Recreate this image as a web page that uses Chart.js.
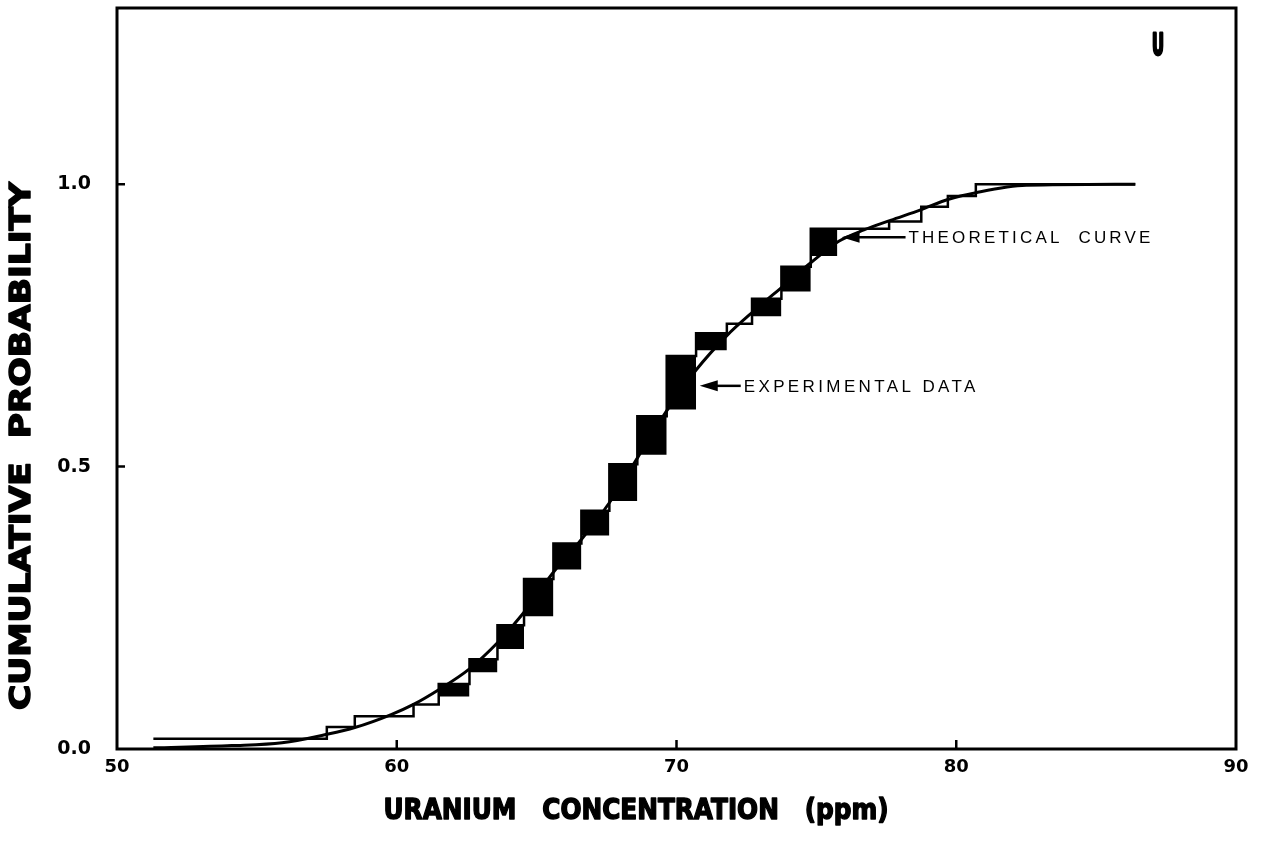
<!DOCTYPE html>
<html>
<head>
<meta charset="utf-8">
<title>Uranium concentration - cumulative probability</title>
<script src="https://cdn.jsdelivr.net/npm/chart.js@4.4.1/dist/chart.umd.min.js"></script>
<style>
  html, body { margin: 0; padding: 0; background: #fff; }
  #wrap { position: relative; width: 1267px; height: 841px; }
</style>
</head>
<body>
<div id="wrap"><canvas id="myChart"></canvas></div>
<script>
// Experimental data: empirical cumulative distribution (jump position, level after jump)
const stepX = [51.3, 57.5, 58.5, 60.6, 61.5, 62.6, 63.6, 64.55, 65.6, 66.6, 67.6, 68.6, 69.65, 70.7, 71.8, 72.7, 73.75, 74.8, 77.6, 78.75, 79.7, 80.7, 86.4];
const stepY = [0.018, 0.039, 0.058, 0.079, 0.115, 0.159, 0.219, 0.301, 0.364, 0.422, 0.504, 0.589, 0.696, 0.736, 0.753, 0.797, 0.854, 0.921, 0.934, 0.960, 0.979, 1.0, 1.0];

// Filled blocks of the experimental data
const boxStart = [61.5, 62.6, 63.6, 64.55, 65.6, 66.6, 67.6, 68.6, 69.65, 70.7, 72.7, 73.75, 74.8];
const boxEnd   = [62.6, 63.6, 64.55, 65.6, 66.6, 67.6, 68.6, 69.65, 70.7, 71.8, 73.75, 74.8, 75.75];
const boxLow   = [0.093, 0.136, 0.177, 0.235, 0.318, 0.378, 0.439, 0.521, 0.601, 0.706, 0.766, 0.810, 0.873];
const boxHigh  = [0.115, 0.159, 0.219, 0.301, 0.364, 0.422, 0.504, 0.589, 0.696, 0.736, 0.797, 0.854, 0.921];

// Theoretical curve
const curveX = [51.3, 54.1, 55.9, 57.5, 58.5, 59.8, 60.6, 61.5, 62.6, 63.6, 64.5, 65.6, 66.6, 67.6, 68.6, 69.6, 70.7, 71.8, 72.75, 73.75, 74.8, 75.8, 76.7, 77.65, 78.75, 79.7, 80.7, 82.5, 86.4];
const curveY = [0.002, 0.006, 0.011, 0.026, 0.038, 0.061, 0.079, 0.105, 0.142, 0.188, 0.239, 0.313, 0.371, 0.436, 0.515, 0.595, 0.671, 0.732, 0.775, 0.817, 0.861, 0.899, 0.919, 0.936, 0.955, 0.973, 0.985, 0.998, 1.0];

// Axis ticks
const xTicks = [50, 60, 70, 80, 90];
const yTicks = [0.0, 0.5, 1.0];
const xInnerTicks = [60, 70, 80];
const yInnerTicks = [0.5, 1.0];

// Annotations (text, where the arrow points)
const noteText = ['THEORETICAL  CURVE', 'EXPERIMENTAL DATA'];
const noteX = [75.9, 70.83];
const noteY = [0.906, 0.643];

const ctx = document.getElementById('myChart');

// one pair of datasets per block: top edge, bottom edge filled up to the top
const boxSets = [];
for (let i = 0; i < boxStart.length; i++) {
  boxSets.push({
    data: [{x: boxStart[i], y: boxHigh[i]}, {x: boxEnd[i], y: boxHigh[i]}],
    borderWidth: 0, pointRadius: 0, fill: false, borderColor: '#000'
  });
  boxSets.push({
    data: [{x: boxStart[i], y: boxLow[i]}, {x: boxEnd[i], y: boxLow[i]}],
    borderWidth: 0, pointRadius: 0, fill: '-1', backgroundColor: '#000', borderColor: '#000'
  });
}

// draws text so it spans a given width (condensed poster lettering)
function fitText(c, text, cx, cy, width, font, rot, heavy) {
  c.save();
  c.font = font;
  c.textAlign = 'center';
  c.textBaseline = 'middle';
  const w = c.measureText(text).width;
  c.translate(cx, cy);
  if (rot) c.rotate(rot);
  c.scale(width / w, 1);
  c.fillText(text, 0, 0);
  if (heavy) {
    c.lineWidth = heavy;
    c.lineJoin = 'round';
    c.strokeText(text, 0, 0);
  }
  c.restore();
}

function spacedText(c, text, x, y, width, font) {
  c.save();
  c.font = font;
  c.textAlign = 'left';
  c.textBaseline = 'middle';
  const w = c.measureText(text).width;
  const sp = (width - w) / text.length;
  if ('letterSpacing' in c) {
    c.letterSpacing = sp + 'px';
    c.fillText(text, x, y);
  } else {
    c.translate(x, y);
    c.scale(width / w, 1);
    c.fillText(text, 0, 0);
  }
  c.restore();
}

const arrowLen = [64, 41];
const noteWidth = [245, 235];

const paperPlugin = {
  id: 'paper',
  afterDraw(chart) {
    const c = chart.ctx;
    const a = chart.chartArea;
    const xs = chart.scales.x;
    const ys = chart.scales.y;
    c.save();
    c.fillStyle = '#000';
    c.strokeStyle = '#000';

    // frame
    c.lineWidth = 3;
    c.strokeRect(a.left, a.top, a.right - a.left, a.bottom - a.top);

    // inward tick marks
    c.lineWidth = 2.5;
    c.beginPath();
    xInnerTicks.forEach(v => {
      const px = xs.getPixelForValue(v);
      c.moveTo(px, a.bottom);
      c.lineTo(px, a.bottom - 9);
    });
    yInnerTicks.forEach(v => {
      const py = ys.getPixelForValue(v);
      c.moveTo(a.left, py);
      c.lineTo(a.left + 8, py);
    });
    c.stroke();

    // arrows and labels
    for (let i = 0; i < noteText.length; i++) {
      const tx = xs.getPixelForValue(noteX[i]);
      const ty = ys.getPixelForValue(noteY[i]);
      const tail = tx + arrowLen[i];
      c.lineWidth = 2.5;
      c.beginPath();
      c.moveTo(tx + 14, ty);
      c.lineTo(tail, ty);
      c.stroke();
      c.beginPath();
      c.moveTo(tx, ty);
      c.lineTo(tx + 18, ty - 5.5);
      c.lineTo(tx + 18, ty + 5.5);
      c.closePath();
      c.fill();
      spacedText(c, noteText[i], tail + 3, ty + 1, noteWidth[i], '17px "Liberation Sans", Arial, sans-serif');
    }

    // element symbol
    fitText(c, 'U', 1158, 47, 12, 'bold 30px "DejaVu Sans", sans-serif', 0, 3);

    // axis titles
    fitText(c, 'CUMULATIVE  PROBABILITY', 22, 446, 528, 'bold 29px "DejaVu Sans", sans-serif', -Math.PI / 2, 1.5);
    fitText(c, 'URANIUM   CONCENTRATION   (ppm)', 636, 811, 505, 'bold 29px "DejaVu Sans", sans-serif', 0, 1.5);

    c.restore();
  }
};

const myChart = new Chart(ctx, {
  type: 'line',
  data: {
    datasets: [
      ...boxSets,
      {
        label: 'Experimental data',
        data: stepX.map((x, i) => ({x: x, y: stepY[i]})),
        stepped: 'before',
        borderColor: '#000',
        borderWidth: 2.5,
        pointRadius: 0,
        fill: false
      },
      {
        label: 'Theoretical curve',
        data: curveX.map((x, i) => ({x: x, y: curveY[i]})),
        borderColor: '#000',
        borderWidth: 3,
        pointRadius: 0,
        fill: false,
        cubicInterpolationMode: 'monotone'
      }
    ]
  },
  options: {
    responsive: true,
    maintainAspectRatio: false,
    animation: false,
    layout: { padding: { top: 8, right: 31, left: 0, bottom: 0 } },
    plugins: {
      legend: { display: false },
      tooltip: { enabled: false }
    },
    scales: {
      x: {
        type: 'linear',
        min: 50,
        max: 90,
        afterBuildTicks: s => { s.ticks = xTicks.map(v => ({value: v})); },
        afterFit: s => { s.height = 92; },
        grid: { display: false, drawTicks: false },
        border: { display: false },
        ticks: {
          padding: 8,
          color: '#000',
          font: { family: '"DejaVu Sans", sans-serif', size: 18, weight: 'bold' },
          callback: v => String(v)
        }
      },
      y: {
        type: 'linear',
        min: 0,
        max: 1.312,
        afterBuildTicks: s => { s.ticks = yTicks.map(v => ({value: v})); },
        afterFit: s => { s.width = 117; s.paddingTop = 0; s.paddingBottom = 0; },
        grid: { display: false, drawTicks: false },
        border: { display: false },
        ticks: {
          padding: 26,
          color: '#000',
          font: { family: '"DejaVu Sans", sans-serif', size: 19, weight: 'bold' },
          callback: v => v.toFixed(1)
        }
      }
    }
  },
  plugins: [paperPlugin]
});
</script>
</body>
</html>
